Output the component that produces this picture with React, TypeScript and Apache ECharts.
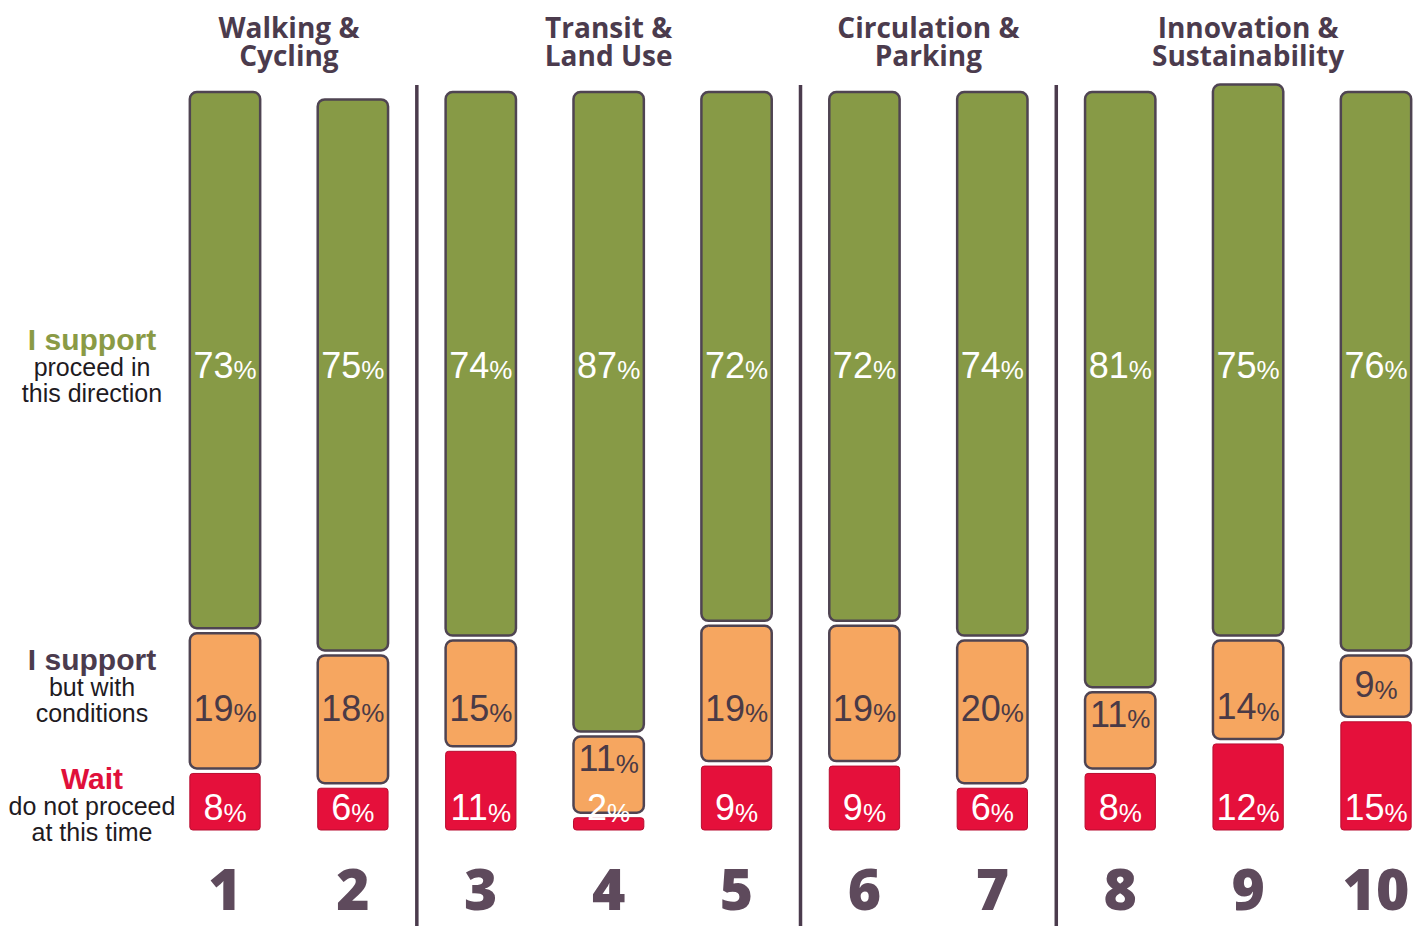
import React, { useEffect, useRef } from "react";
import * as echarts from "echarts";

// Survey results per question: share of respondents in each response group
const questions = [1, 2, 3, 4, 5, 6, 7, 8, 9, 10];
const supportPct = [73, 75, 74, 87, 72, 72, 74, 81, 75, 76];
const conditionsPct = [19, 18, 15, 11, 19, 19, 20, 11, 14, 9];
const waitPct = [8, 6, 11, 2, 9, 9, 6, 8, 12, 15];

// Theme groups: title lines and the first/last question in each group
const themeTitles = [
  "Walking &\nCycling",
  "Transit &\nLand Use",
  "Circulation &\nParking",
  "Innovation &\nSustainability",
];
const themeSpans = [
  [1, 2],
  [3, 5],
  [6, 7],
  [8, 10],
];

const GREEN = "#879a46";
const ORANGE = "#f6a660";
const RED = "#e5103b";
const EDGE = "#4f4452";
const INK = "#4b3b4d";
const GAP = 5;
const SANS = "'Liberation Sans', Arial, sans-serif";

type Kind = "support" | "conditions" | "wait";

function segmentRenderer(kind: Kind) {
  return (params: any, api: any) => {
    const x = api.value(0);
    const lo = api.value(1);
    const hi = api.value(2);
    const v = api.value(3);
    const xc = api.coord([x, 0])[0];
    const w = api.size([1, 0])[0] * 0.55;
    let yBottom = api.coord([x, lo])[1];
    let yTop = api.coord([x, hi])[1];
    if (kind !== "wait") yBottom -= GAP / 2;
    if (kind !== "support") yTop += GAP / 2;

    const fill = kind === "support" ? GREEN : kind === "conditions" ? ORANGE : RED;
    const textColor = kind === "conditions" ? "#4a3a46" : "#ffffff";

    // Value labels sit on a common row per response group, kept inside the segment
    let ly: number;
    if (kind === "support") {
      ly = api.coord([x, 63])[1];
    } else if (kind === "conditions") {
      const base = api.coord([x, 16.5])[1];
      ly = Math.max(Math.min(base, yBottom - 32), yTop + 22);
    } else {
      ly = api.coord([x, 3])[1];
    }

    return {
      type: "group",
      children: [
        {
          type: "rect",
          shape: {
            x: xc - w / 2,
            y: yTop,
            width: w,
            height: Math.max(yBottom - yTop, 1),
            r: kind === "wait" ? 3 : 7,
          },
          style: {
            fill,
            stroke: kind === "wait" ? "#b80d30" : EDGE,
            lineWidth: kind === "wait" ? 1 : 2.5,
          },
        },
        {
          type: "text",
          z2: 10,
          style: {
            text: `{n|${v}}{p|%}`,
            x: xc,
            y: ly,
            align: "center",
            verticalAlign: "middle",
            rich: {
              n: { fontSize: 36, fontFamily: SANS, fill: textColor },
              p: { fontSize: 26, fontFamily: SANS, fill: textColor, verticalAlign: "bottom" },
            },
          },
        },
      ],
    };
  };
}

export default function App() {
  const ref = useRef<HTMLDivElement>(null);

  useEffect(() => {
    if (!ref.current) return;
    const chart = echarts.init(ref.current, undefined, { renderer: "svg" });

    const waitData = questions.map((q, i) => [q, 0, waitPct[i], waitPct[i]]);
    const condData = questions.map((q, i) => [
      q,
      waitPct[i],
      waitPct[i] + conditionsPct[i],
      conditionsPct[i],
    ]);
    const supportData = questions.map((q, i) => [
      q,
      waitPct[i] + conditionsPct[i],
      waitPct[i] + conditionsPct[i] + supportPct[i],
      supportPct[i],
    ]);
    const headerData = themeSpans.map((s, i) => [(s[0] + s[1]) / 2, i]);
    const dividerData = themeSpans.slice(0, -1).map((s) => [s[1] + 0.5]);

    // Response-group key on the left: bold heading plus two plain lines
    const legendBlock = (
      y: number,
      head: string,
      headColor: string,
      lines: string[]
    ) => [
      {
        type: "text",
        style: {
          text: head,
          x: 92,
          y,
          align: "center",
          verticalAlign: "middle",
          font: `bold 30px ${SANS}`,
          fill: headColor,
        },
      },
      ...lines.map((t, k) => ({
        type: "text",
        style: {
          text: t,
          x: 92,
          y: y + 27.5 + k * 26,
          align: "center",
          verticalAlign: "middle",
          font: `25px ${SANS}`,
          fill: "#1f1b1f",
        },
      })),
    ];

    chart.setOption({
      animation: false,
      backgroundColor: "#ffffff",
      grid: { left: 225, right: 45, top: 92, bottom: 96 },
      xAxis: {
        type: "value",
        min: 1,
        max: 10,
        interval: 1,
        axisLine: { show: false },
        axisTick: { show: false },
        splitLine: { show: false },
        axisLabel: {
          margin: 33,
          fontSize: 57,
          lineHeight: 50,
          fontWeight: 800,
          fontFamily: "'Open Sans', sans-serif",
          color: "#5e4a5c",
        },
      },
      yAxis: { type: "value", min: 0, max: 100, show: false },
      graphic: [
        ...legendBlock(339, "I support", "#8a9a45", ["proceed in", "this direction"]),
        ...legendBlock(659, "I support", INK, ["but with", "conditions"]),
        ...legendBlock(778, "Wait", "#e0103a", ["do not proceed", "at this time"]),
      ],
      series: [
        {
          type: "custom",
          name: "Wait",
          data: waitData,
          renderItem: segmentRenderer("wait"),
        },
        {
          type: "custom",
          name: "I support but with conditions",
          data: condData,
          renderItem: segmentRenderer("conditions"),
        },
        {
          type: "custom",
          name: "I support",
          data: supportData,
          renderItem: segmentRenderer("support"),
        },
        {
          type: "custom",
          name: "themes",
          data: headerData,
          renderItem: (params: any, api: any) => {
            const [x, yTop] = api.coord([api.value(0), 100]);
            return {
              type: "text",
              style: {
                text: themeTitles[api.value(1)],
                x,
                y: yTop - 51,
                align: "center",
                verticalAlign: "middle",
                fontSize: 28,
                lineHeight: 28,
                fontWeight: 700,
                fontFamily: "'Open Sans', sans-serif",
                fill: INK,
              },
            };
          },
        },
        {
          type: "custom",
          name: "dividers",
          data: dividerData,
          renderItem: (params: any, api: any) => {
            const x = api.coord([api.value(0), 0])[0];
            return {
              type: "line",
              shape: { x1: x, y1: 85, x2: x, y2: 926 },
              style: { stroke: INK, lineWidth: 3.5 },
            };
          },
        },
      ],
    });

    return () => chart.dispose();
  }, []);

  return (
    <div
      ref={ref}
      style={{
        position: "fixed",
        left: 0,
        top: 0,
        width: 1421,
        height: 926,
        background: "#ffffff",
      }}
    />
  );
}
